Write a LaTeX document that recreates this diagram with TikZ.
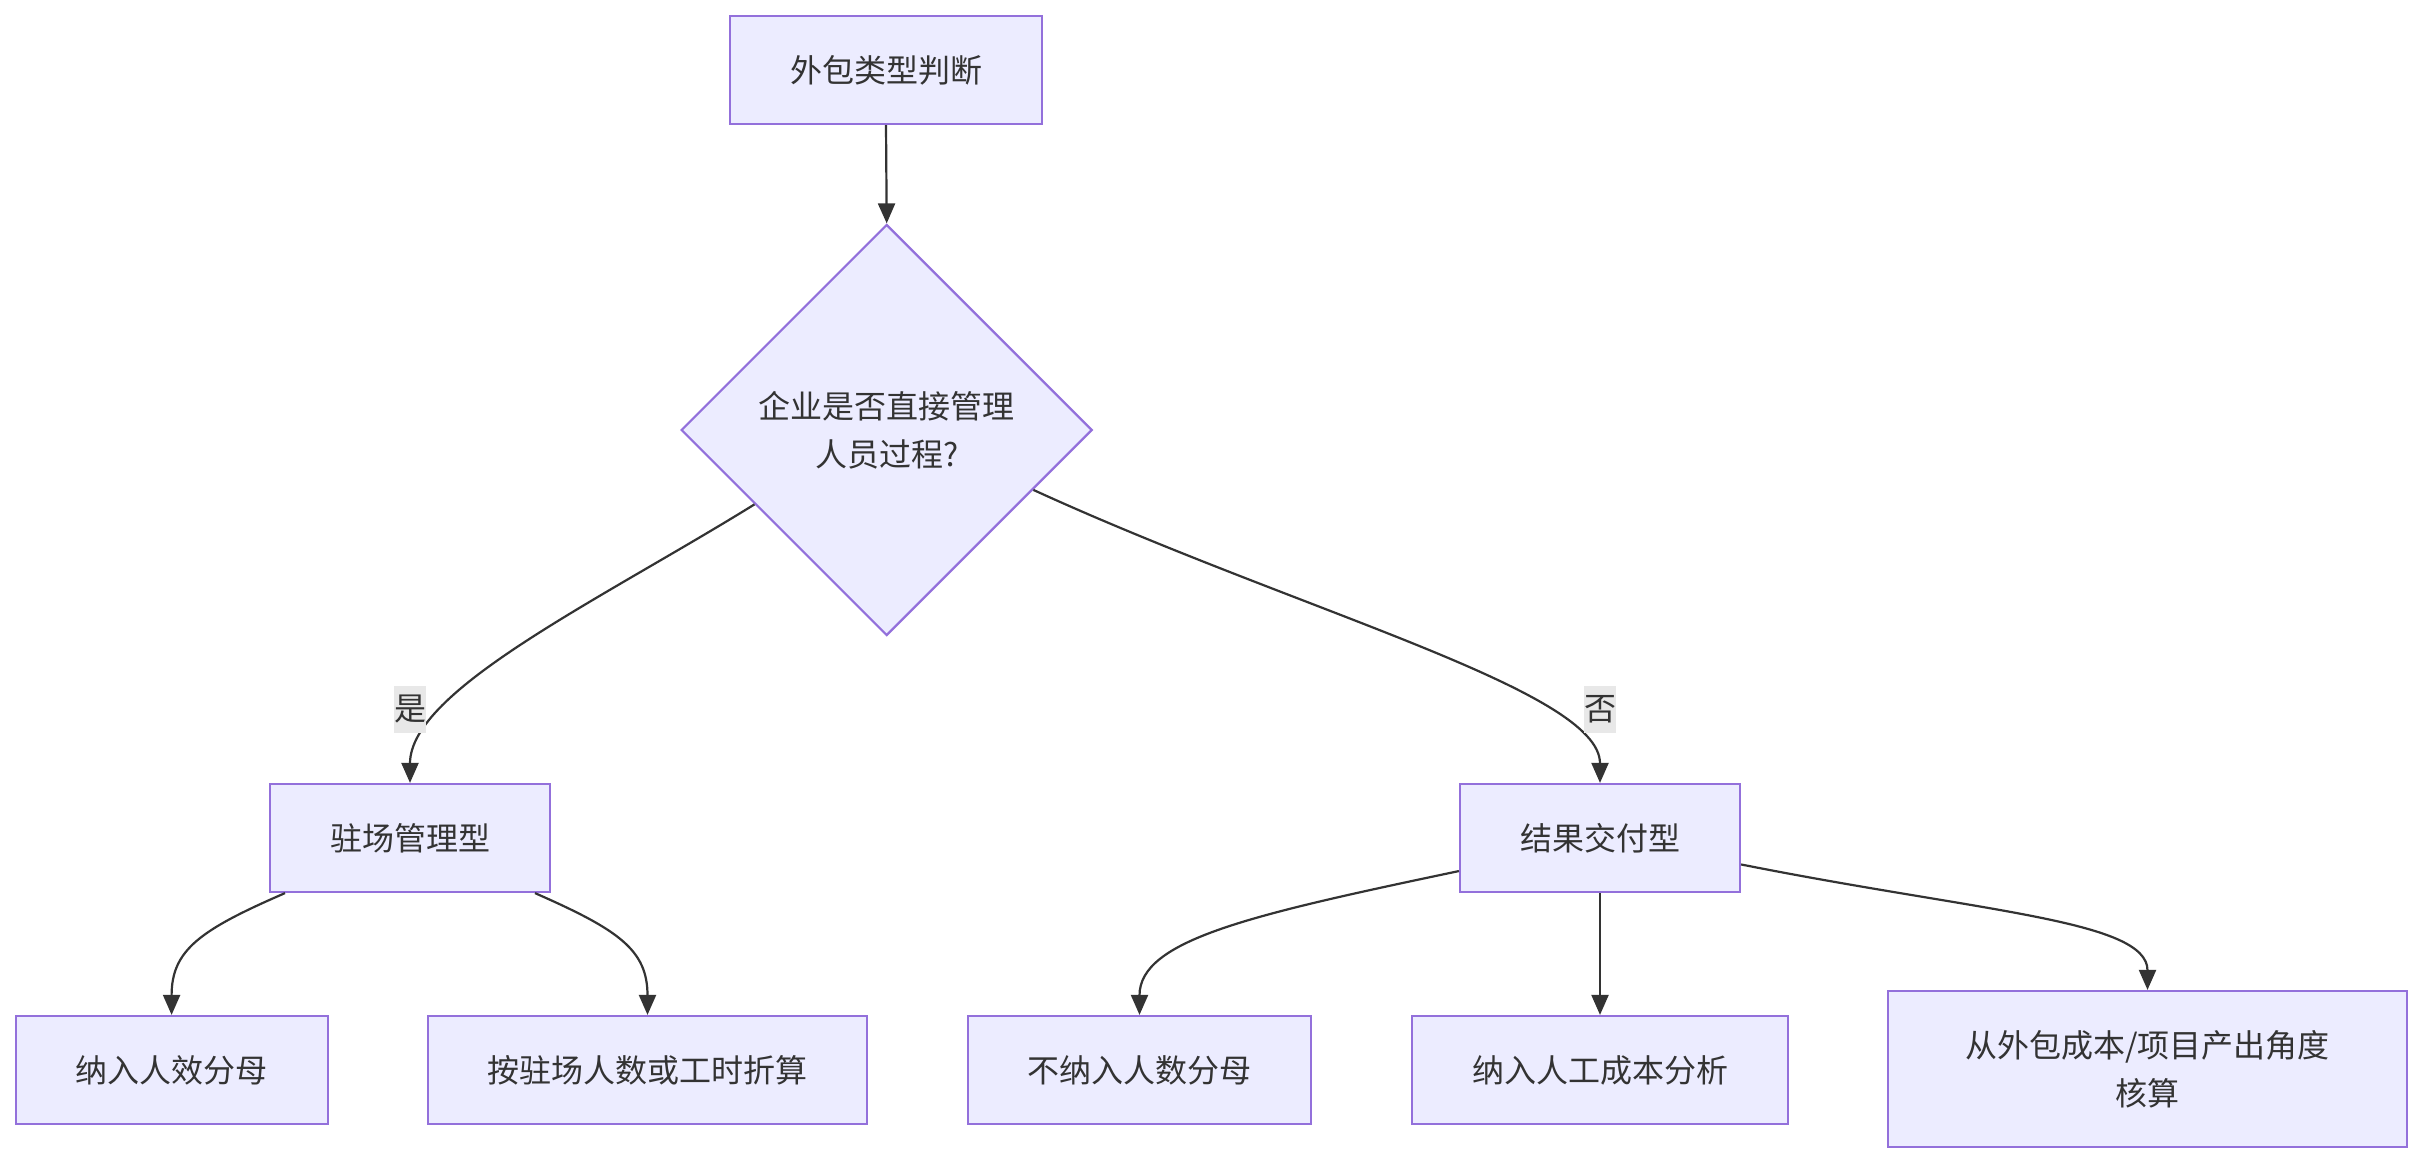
\documentclass[tikz,border=0pt]{standalone}
\usepackage{fontspec}
\setmainfont{Noto Sans CJK SC}
\usetikzlibrary{shapes.geometric,arrows.meta,calc}
\definecolor{nodefill}{HTML}{ECECFF}
\definecolor{nodeline}{HTML}{9370DB}
\definecolor{txt}{HTML}{333333}
\definecolor{lblbg}{HTML}{E8E8E8}
\begin{document}
\begin{tikzpicture}[x=1pt,y=-1pt,
 box/.style={draw=nodeline,fill=nodefill,line width=2.2pt,inner sep=0pt,text=txt,font=\fontsize{32}{48}\selectfont,align=center},
 dec/.style={box,diamond,aspect=1,minimum size=411pt},
 edge/.style={draw=txt,line width=2.2pt,-{Triangle[length=20pt,width=17pt]}},
 lbl/.style={fill=lblbg,text=txt,font=\fontsize{32}{40}\selectfont,inner sep=0pt,minimum width=32pt,minimum height=47pt}]
\useasboundingbox (0,0) rectangle (2424,1164);
\fill[white] (0,0) rectangle (2424,1164);

\node[box,minimum width=312pt,minimum height=108pt] (top) at (886,70) {外包类型判断};
\node[dec] (d) at (886.7,430) {企业是否直接管理\\人员过程?};
\node[box,minimum width=280pt,minimum height=108pt] (b1) at (410,838) {驻场管理型};
\node[box,minimum width=280pt,minimum height=108pt] (b2) at (1600,838) {结果交付型};
\node[box,minimum width=312pt,minimum height=108pt] (c1) at (171.6,1070) {纳入人效分母};
\node[box,minimum width=439pt,minimum height=108pt] (c2) at (647.5,1070) {按驻场人数或工时折算};
\node[box,minimum width=343pt,minimum height=108pt] (c3) at (1139.5,1070) {不纳入人数分母};
\node[box,minimum width=376pt,minimum height=108pt] (c4) at (1600,1070) {纳入人工成本分析};
\node[box,minimum width=519pt,minimum height=156pt] (c5) at (2147.5,1069) {从外包成本/项目产出角度\\核算};

\draw[edge] (top.south) -- (d.north);
\coordinate (dl) at ($(d.west)!0.36!(d.south)$);
\coordinate (dr) at ($(d.east)!0.29!(d.south)$);
\draw[edge] (dl) .. controls (600,600) and (410,690) .. (b1.north);
\draw[edge] (dr) .. controls (1300,612) and (1600,690) .. (b2.north);
\node[lbl] (ly) at (410,709.5) {是};
\node[lbl] (ln) at (1600,709.5) {否};

\coordinate (b1l) at ($(b1.south west)!0.057!(b1.south east)$);
\coordinate (b1r) at ($(b1.south west)!0.943!(b1.south east)$);
\draw[edge] (b1l) .. controls (200,930) and (171.6,950) .. (c1.north);
\draw[edge] (b1r) .. controls (619,930) and (647.5,950) .. (c2.north);

\coordinate (b2l) at ($(b2.north west)!0.8!(b2.south west)$);
\coordinate (b2r) at ($(b2.north east)!0.74!(b2.south east)$);
\draw[edge] (b2l) .. controls (1250,915) and (1139.5,940) .. (c3.north);
\draw[edge] (b2.south) -- (c4.north);
\draw[edge] (b2r) .. controls (1980,912) and (2147.5,920) .. (c5.north);
\end{tikzpicture}
\end{document}
